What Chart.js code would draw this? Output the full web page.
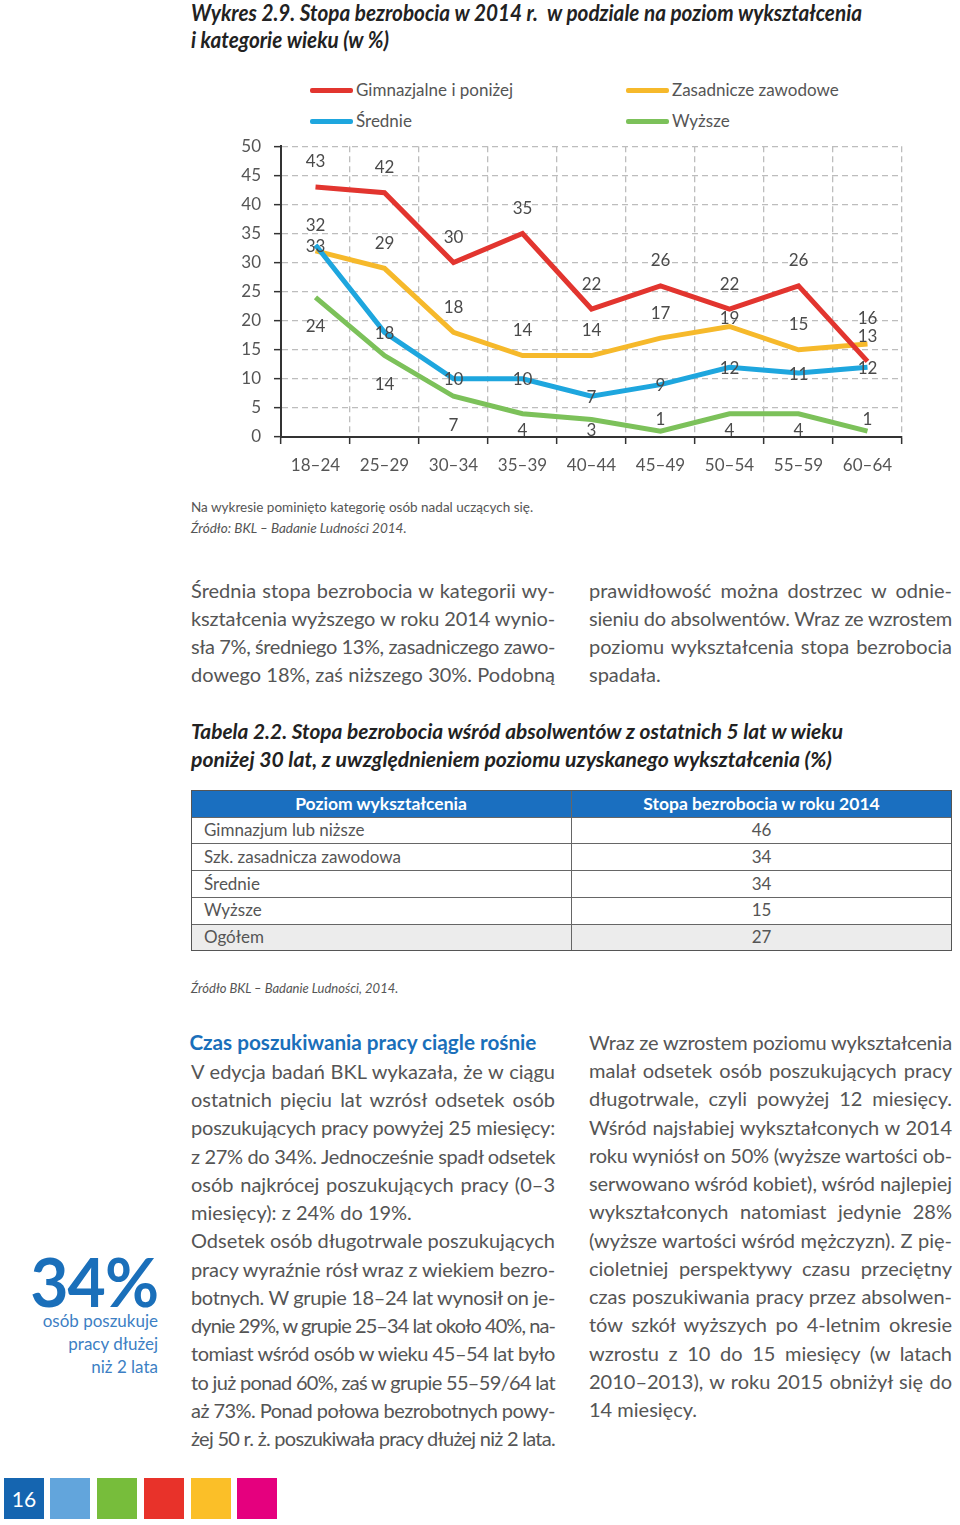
<!DOCTYPE html>
<html><head><meta charset="utf-8">
<script src="https://cdn.jsdelivr.net/npm/chart.js@4.4.1/dist/chart.umd.min.js"></script>
<style>
html,body{margin:0;padding:0;}
body{width:960px;height:1525px;position:relative;background:#fff;overflow:hidden;font-family:Lato,"Open Sans",sans-serif;color:#555;}
.a{position:absolute;white-space:nowrap;}
.ln{position:absolute;white-space:nowrap;font-size:20px;color:#555;}
.ttl{font-weight:700;font-style:italic;color:#222;font-size:22px;transform-origin:0 50%;}
.lg{position:absolute;height:5px;border-radius:2px;width:43px;}
.lgt{position:absolute;font-size:17px;color:#555;line-height:24px;white-space:nowrap;}
.sq{position:absolute;top:1478px;width:40px;height:41px;}
</style></head><body>

<div id="t1" class="a ttl" style="left:191px;top:0px;line-height:26px;">Wykres 2.9. Stopa bezrobocia w 2014 r.&nbsp; w podziale na poziom wykształcenia</div>
<div id="t2" class="a ttl" style="left:191px;top:27px;line-height:26px;">i kategorie wieku (w %)</div>

<div id="legend"></div>

<div style="position:absolute;left:220px;top:123px;width:700px;height:357px;">
<canvas id="c" width="700" height="357"></canvas>
</div>

<div class="a" style="left:191px;top:497px;font-size:13.5px;line-height:20px;color:#555;">Na wykresie pominięto kategorię osób nadal uczących się.</div>
<div class="a" style="left:191px;top:518px;font-size:13.5px;line-height:20px;color:#555;font-style:italic;">Źródło: BKL – Badanie Ludności 2014.</div>

<div id="tc1" class="a ttl" style="left:191px;top:718px;line-height:26px;font-size:21px;">Tabela 2.2. Stopa bezrobocia wśród absolwentów z ostatnich 5 lat w wieku</div>
<div id="tc2" class="a ttl" style="left:191px;top:746px;line-height:26px;font-size:21px;">poniżej 30 lat, z uwzględnieniem poziomu uzyskanego wykształcenia (%)</div>

<div id="table"></div>

<div class="a" style="left:191px;top:978px;font-size:13px;line-height:20px;color:#555;font-style:italic;">Źródło BKL – Badanie Ludności, 2014.</div>

<div id="h2" class="a" style="left:191px;top:1028px;font-size:20.5px;line-height:28px;font-weight:700;color:#1a6fba;">Czas poszukiwania pracy ciągle rośnie</div>

<div class="a" style="left:20px;top:1256px;width:138px;text-align:right;font-size:66px;line-height:52px;font-weight:700;color:#1a6fba;letter-spacing:-1px;">34%</div>
<div class="a" style="left:20px;top:1310px;width:138px;text-align:right;font-size:17px;line-height:21px;color:#3d7fc4;">osób poszukuje</div>
<div class="a" style="left:20px;top:1332.5px;width:138px;text-align:right;font-size:17px;line-height:21px;color:#3d7fc4;">pracy dłużej</div>
<div class="a" style="left:20px;top:1355.5px;width:138px;text-align:right;font-size:17px;line-height:21px;color:#3d7fc4;">niż 2 lata</div>

<div class="sq" style="left:4px;background:#1565b0;color:#fff;font-size:21px;line-height:41px;text-align:center;">16</div>
<div class="sq" style="left:50px;background:#62a5dc;"></div>
<div class="sq" style="left:97px;background:#77bd3b;"></div>
<div class="sq" style="left:144px;background:#e8322a;"></div>
<div class="sq" style="left:191px;background:#fbbf28;"></div>
<div class="sq" style="left:237px;background:#e5007e;"></div>

<script>
// ---- chart data ----
const categories = ['18–24','25–29','30–34','35–39','40–44','45–49','50–54','55–59','60–64'];
const seriesNames = ['Gimnazjalne i poniżej','Średnie','Zasadnicze zawodowe','Wyższe'];
const gimnazjalne = [43, 42, 30, 35, 22, 26, 22, 26, 13];
const srednie     = [33, 18, 10, 10, 7, 9, 12, 11, 12];
const zasadnicze  = [32, 29, 18, 14, 14, 17, 19, 15, 16];
const wyzsze      = [24, 14, 7, 4, 3, 1, 4, 4, 1];
const yMin = 0, yMax = 50, yStep = 5;

// ---- table data ----
const tableHeaders = ['Poziom wykształcenia','Stopa bezrobocia w roku 2014'];
const tableLevels = ['Gimnazjum lub niższe','Szk. zasadnicza zawodowa','Średnie','Wyższe','Ogółem'];
const tableValues = [46, 34, 34, 15, 27];

// ---- styles ----
const colors = {red:'#e2352f', blue:'#1ea6de', yellow:'#f6b92b', green:'#7cc15a'};
const FONT = 'Lato, "Open Sans", sans-serif';

// legend (HTML)
const legendItems = [
  {name: seriesNames[0], color: colors.red, x:310, y:90},
  {name: seriesNames[2], color: colors.yellow, x:626, y:90},
  {name: seriesNames[1], color: colors.blue, x:310, y:121},
  {name: seriesNames[3], color: colors.green, x:626, y:121}
];
const lg = document.getElementById('legend');
legendItems.forEach(it => {
  const l = document.createElement('div'); l.className='lg';
  l.style.left = it.x+'px'; l.style.top = (it.y-2.5)+'px'; l.style.background = it.color;
  lg.appendChild(l);
  const t = document.createElement('div'); t.className='lgt';
  t.style.left = (it.x+46)+'px'; t.style.top = (it.y-12)+'px'; t.textContent = it.name;
  lg.appendChild(t);
});

// value labels plugin
function labelShift(key, i, y, bottom){
  if (key==='red') return -25;
  if (key==='yellow') return i===6 ? -8 : -25;
  if (key==='blue') return 1;
  // green
  if (y > bottom - 12) return -12;
  return Math.min(29, bottom - 6 - y);
}
const valueLabels = {
  id:'valueLabels',
  afterDatasetsDraw(chart){
    const ctx = chart.ctx, bottom = chart.chartArea.bottom;
    ctx.save();
    ctx.font = '17px ' + FONT; ctx.fillStyle = '#4a4a4a';
    ctx.textAlign='center'; ctx.textBaseline='middle';
    chart.data.datasets.forEach((ds, di) => {
      const meta = chart.getDatasetMeta(di);
      meta.data.forEach((pt, i) => {
        ctx.fillText(String(ds.data[i]), pt.x, pt.y + labelShift(ds.key, i, pt.y, bottom));
      });
    });
    ctx.restore();
  }
};

const mk = (label, data, color, key) => ({label, data, key, borderColor: color, backgroundColor: color,
  borderWidth: 5, pointRadius: 0, tension: 0, fill: false});

new Chart(document.getElementById('c'), {
  type: 'line',
  data: {
    labels: categories,
    datasets: [
      mk(seriesNames[0], gimnazjalne, colors.red, 'red'),
      mk(seriesNames[1], srednie, colors.blue, 'blue'),
      mk(seriesNames[2], zasadnicze, colors.yellow, 'yellow'),
      mk(seriesNames[3], wyzsze, colors.green, 'green')
    ]
  },
  options: {
    responsive: false, animation: false, devicePixelRatio: 1,
    layout: {padding: {top: 9, right: 18, left: 0, bottom: 0}},
    plugins: {legend: {display: false}, tooltip: {enabled: false}},
    scales: {
      x: {
        offset: true,
        grid: {offset: true, color: '#bdbdbd', lineWidth: 1.3, tickLength: 7, tickColor: '#333', tickWidth: 1.5, tickBorderDash: []},
        border: {display: true, color: '#333', width: 2, dash: [6, 4]},
        ticks: {font: {family: FONT, size: 17}, color: '#555', padding: 11, maxRotation: 0, autoSkip: false},
        afterFit: s => { s.height = 43; }
      },
      y: {
        min: yMin, max: yMax,
        grid: {color: '#bdbdbd', lineWidth: 1.3, tickLength: 7, tickColor: '#333', tickWidth: 1.5, tickBorderDash: []},
        border: {display: true, color: '#333', width: 2, dash: [6, 4]},
        ticks: {stepSize: yStep, font: {family: FONT, size: 17}, color: '#555', padding: 13},
        afterFit: s => { s.width = 61; }
      }
    }
  },
  plugins: [valueLabels]
});

// table
(function(){
  const tb = document.getElementById('table');
  const L = 191, R = 952, M = 571, top = 790, hh = 27, rh = 26.8;
  const add = (css, txt) => { const d = document.createElement('div'); d.style.cssText = 'position:absolute;white-space:nowrap;box-sizing:border-box;' + css; if (txt!==undefined) d.textContent = txt; tb.appendChild(d); return d; };
  const total = hh + rh*tableLevels.length;
  add(`left:${L}px;top:${top}px;width:${R-L}px;height:${hh}px;background:#1a6fc0;`);
  add(`left:${L}px;top:${top+hh+rh*4}px;width:${R-L}px;height:${rh}px;background:#ececec;`);
  tableHeaders.forEach((h, j) => {
    const x0 = j===0 ? L : M, x1 = j===0 ? M : R;
    add(`left:${x0}px;top:${top}px;width:${x1-x0}px;height:${hh}px;line-height:${hh}px;text-align:center;color:#fff;font-weight:700;font-size:17.5px;`, h);
  });
  tableLevels.forEach((lv, i) => {
    const y = top + hh + rh*i;
    add(`left:${L+13}px;top:${y}px;height:${rh}px;line-height:${rh}px;font-size:17px;color:#555;`, lv);
    add(`left:${M}px;top:${y}px;width:${R-M}px;height:${rh}px;line-height:${rh}px;text-align:center;font-size:17px;color:#555;`, String(tableValues[i]));
    add(`left:${L}px;top:${y-0.5}px;width:${R-L}px;height:1px;background:#666;`);
  });
  add(`left:${M-0.5}px;top:${top}px;width:1px;height:${total}px;background:#666;`);
  add(`left:${L}px;top:${top}px;width:${R-L}px;height:${total}px;border:1.5px solid #555;`);
})();

// text blocks
function lay(lines, left, cy0, lh, width){
  lines.forEach((ln, i) => {
    const txt = typeof ln === 'string' ? ln : ln[0];
    const just = typeof ln === 'string';
    const d = document.createElement('div'); d.className = 'ln';
    d.style.left = left+'px'; d.style.top = (cy0 + i*lh - 14)+'px'; d.style.lineHeight = '28px';
    d.style.width = width+'px';
    const s = document.createElement('span'); s.textContent = txt; d.appendChild(s);
    document.body.appendChild(d);
    const w = s.getBoundingClientRect().width;
    if (w > width) s.style.letterSpacing = ((width - w) / txt.length) + 'px';
    if (just) { d.style.textAlign = 'justify'; d.style.textAlignLast = 'justify'; }
  });
}
lay(['Średnia stopa bezrobocia w kategorii wy-','kształcenia wyższego w roku 2014 wynio-','sła 7%, średniego 13%, zasadniczego zawo-','dowego 18%, zaś niższego 30%. Podobną'], 191, 590, 28, 364);
lay(['prawidłowość można dostrzec w odnie-','sieniu do absolwentów. Wraz ze wzrostem','poziomu wykształcenia stopa bezrobocia',['spadała.']], 589, 590, 28, 363);
lay(['V edycja badań BKL wykazała, że w ciągu','ostatnich pięciu lat wzrósł odsetek osób','poszukujących pracy powyżej 25 miesięcy:','z 27% do 34%. Jednocześnie spadł odsetek','osób najkrócej poszukujących pracy (0–3',['miesięcy): z 24% do 19%.'],'Odsetek osób długotrwale poszukujących','pracy wyraźnie rósł wraz z wiekiem bezro-','botnych. W grupie 18–24 lat wynosił on je-','dynie 29%, w grupie 25–34 lat około 40%, na-','tomiast wśród osób w wieku 45–54 lat było','to już ponad 60%, zaś w grupie 55–59/64 lat','aż 73%. Ponad połowa bezrobotnych powy-','żej 50 r. ż. poszukiwała pracy dłużej niż 2 lata.'], 191, 1071, 28.23, 364);
lay(['Wraz ze wzrostem poziomu wykształcenia','malał odsetek osób poszukujących pracy','długotrwale, czyli powyżej 12 miesięcy.','Wśród najsłabiej wykształconych w 2014','roku wyniósł on 50% (wyższe wartości ob-','serwowano wśród kobiet), wśród najlepiej','wykształconych natomiast jedynie 28%','(wyższe wartości wśród mężczyzn). Z pię-','cioletniej perspektywy czasu przeciętny','czas poszukiwania pracy przez absolwen-','tów szkół wyższych po 4-letnim okresie','wzrostu z 10 do 15 miesięcy (w latach','2010–2013), w roku 2015  obniżył się do',['14 miesięcy.']], 589, 1042, 28.23, 363);

// fit titles to widths
function fit(id, target){ const e = document.getElementById(id); const w = e.getBoundingClientRect().width; const k = target / w; e.style.transform = `scaleX(${k})`; return k; }
const k1 = fit('t1', 671); document.getElementById('t2').style.transform = `scaleX(${k1})`;
fit('tc1', 652); fit('tc2', 641);
fit('h2', 347);
</script>
</body></html>
